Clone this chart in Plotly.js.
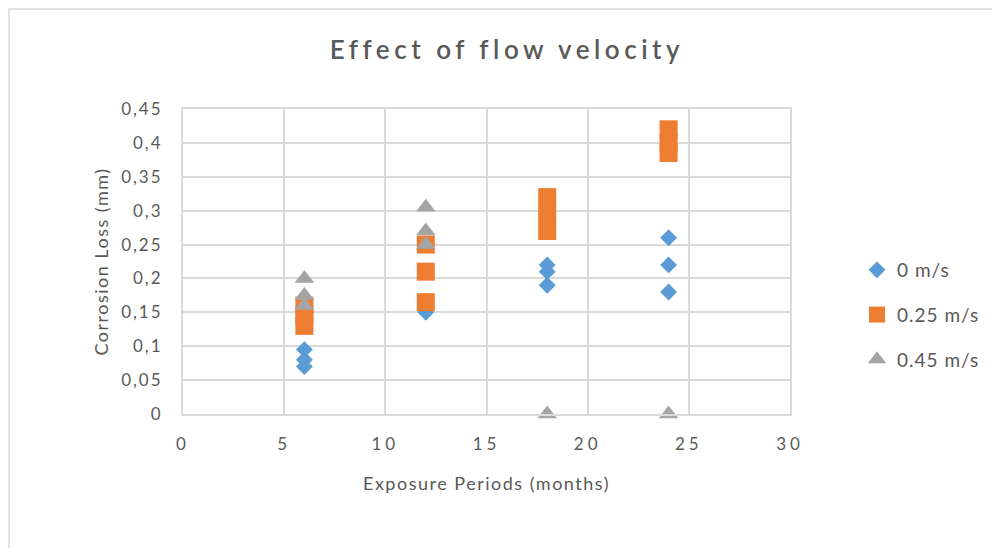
<!DOCTYPE html>
<html>
<head>
<meta charset="utf-8">
<script src="https://cdn.plot.ly/plotly-3.0.1.min.js"></script>
<style>
  html, body { margin: 0; padding: 0; background: #ffffff; }
  #chart { width: 992px; height: 548px; }
  .gtitle { letter-spacing: 4.5px; }
  .xtick text { letter-spacing: 4px; }
  .ytick text { letter-spacing: 2px; }
  .xtitle, .ytitle { letter-spacing: 1.5px; }
  .legendtext { letter-spacing: 1px; }
</style>
</head>
<body>
<div id="chart"></div>
<script>
// Exposure periods (months) and corrosion loss (mm)
const x0 = [6, 6, 6, 12, 18, 18, 18, 24, 24, 24];
const y0 = [0.095, 0.08, 0.07, 0.15, 0.22, 0.21, 0.19, 0.26, 0.22, 0.18];

const x025 = [6, 6, 6, 12, 12, 12, 18, 18, 18, 24, 24, 24];
const y025 = [0.16, 0.145, 0.13, 0.25, 0.21, 0.165, 0.32, 0.295, 0.27, 0.42, 0.40, 0.385];

const x045 = [6, 6, 6, 12, 12, 12, 18, 24];
const y045 = [0.20, 0.175, 0.16, 0.305, 0.27, 0.25, 0, 0];

const seriesNames = ["0 m/s", "0.25 m/s", "0.45 m/s"];

const xTickVals = [0, 5, 10, 15, 20, 25, 30];
const xTickText = ["0", "5", "10", "15", "20", "25", "30"];
const yTickVals = [0, 0.05, 0.1, 0.15, 0.2, 0.25, 0.3, 0.35, 0.4, 0.45];
const yTickText = ["0", "0,05", "0,1", "0,15", "0,2", "0,25", "0,3", "0,35", "0,4", "0,45"];

const FONT = "Lato, 'Open Sans', sans-serif";
const TXT = "#595959";
const GRID = "#DADADA";

const traces = [
  { x: x0, y: y0, name: seriesNames[0], type: "scatter", mode: "markers", legendgroup: "a",
    marker: { symbol: "diamond", size: 13, color: "#5B9BD5" } },
  { x: x025, y: y025, name: seriesNames[1], type: "scatter", mode: "markers", legendgroup: "b",
    marker: { symbol: "square", size: 18, color: "#ED7D31" } },
  { x: x045, y: y045, name: seriesNames[2], type: "scatter", mode: "markers", legendgroup: "c",
    cliponaxis: false,
    marker: { symbol: "triangle-up", size: 17, color: "#A5A5A5" } }
];

// plot area in pixels: left 183, right 790, top 109, bottom 414
const L = 183, R = 790, T = 109, B = 414;
const W = 992, H = 548;
const pw = R - L, ph = B - T;
const px = v => (v - L) / pw;
const py = v => (B - v) / ph;

const layout = {
  width: W, height: H,
  margin: { l: L, r: W - R, t: T, b: H - B, pad: 0, autoexpand: false },
  paper_bgcolor: "#ffffff",
  plot_bgcolor: "#ffffff",
  font: { family: FONT, color: TXT, size: 17 },
  title: {
    text: "Effect of flow velocity",
    font: { family: FONT, size: 26, color: TXT, weight: 600 },
    x: 507 / W, xanchor: "center",
    y: 1 - 50 / H, yanchor: "middle"
  },
  xaxis: {
    range: [0, 30],
    tickvals: xTickVals, ticktext: xTickText,
    showgrid: true, gridcolor: GRID, gridwidth: 2,
    showline: true, linecolor: GRID, linewidth: 2, mirror: true,
    zeroline: false, ticks: "",
    ticklabelstandoff: 14,
    tickfont: { family: FONT, size: 17, color: TXT },
    title: { text: "Exposure Periods (months)", font: { family: FONT, size: 18, color: TXT }, standoff: 24 }
  },
  yaxis: {
    range: [0, 0.45],
    tickvals: yTickVals, ticktext: yTickText,
    showgrid: true, gridcolor: GRID, gridwidth: 2,
    showline: true, linecolor: GRID, linewidth: 2, mirror: true,
    zeroline: false, ticks: "",
    ticklabelstandoff: 15,
    tickfont: { family: FONT, size: 17, color: TXT },
    title: { text: "Corrosion Loss (mm)", font: { family: FONT, size: 18, color: TXT }, standoff: 8 }
  },
  legend: {
    x: px(857), xanchor: "left",
    y: py(251), yanchor: "top",
    font: { family: FONT, size: 19, color: TXT },
    traceorder: "grouped",
    tracegroupgap: 17,
    bgcolor: "rgba(0,0,0,0)"
  },
  showlegend: true,
  shapes: [
    { type: "rect", xref: "paper", yref: "paper",
      x0: px(9), x1: px(1005), y0: py(560), y1: py(9),
      line: { color: "#D9D9D9", width: 1.5 }, fillcolor: "rgba(0,0,0,0)", layer: "below" }
  ]
};

Plotly.newPlot("chart", traces, layout, { displayModeBar: false, staticPlot: true });
</script>
</body>
</html>
